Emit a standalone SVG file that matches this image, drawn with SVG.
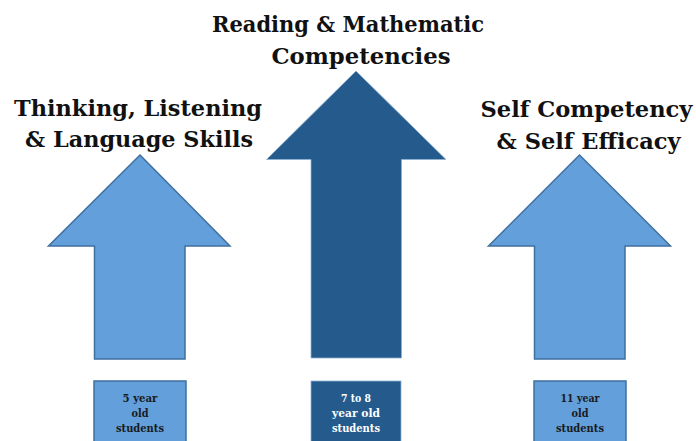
<svg xmlns="http://www.w3.org/2000/svg" width="696" height="441" viewBox="0 0 696 441">
<style>
.title{font-family:"DejaVu Serif","Liberation Serif",serif;font-weight:bold;font-size:23px;fill:#111;text-anchor:middle}
.lbl{font-family:"DejaVu Serif","Liberation Serif",serif;font-weight:bold;font-size:10.5px;text-anchor:middle}
.light{fill:#629fdb;stroke:#3f6f9f;stroke-width:1.5}
.dark{fill:#255a8c;stroke:#8fb2d4;stroke-width:0.8}
</style>
<rect width="696" height="441" fill="#fff"/>
<g id="node-left">
<text class="title" x="138" y="116" textLength="248" lengthAdjust="spacingAndGlyphs">Thinking, Listening</text>
<text class="title" x="139" y="147" textLength="228" lengthAdjust="spacingAndGlyphs">&amp; Language Skills</text>
<polygon class="light" points="140,155 230,246 185,246 185,359 94.5,359 94.5,246 48.5,246"/>
<rect class="light" x="94" y="381" width="92" height="70"/>
<text class="lbl" x="140" y="402" fill="#1a1a1a" textLength="35" lengthAdjust="spacingAndGlyphs">5 year</text>
<text class="lbl" x="140" y="417" fill="#1a1a1a" textLength="17" lengthAdjust="spacingAndGlyphs">old</text>
<text class="lbl" x="140" y="432" fill="#1a1a1a" textLength="48" lengthAdjust="spacingAndGlyphs">students</text>
</g>
<g id="node-center">
<text class="title" x="348" y="32" textLength="272" lengthAdjust="spacingAndGlyphs">Reading &amp; Mathematic</text>
<text class="title" x="361" y="63.5" textLength="179" lengthAdjust="spacingAndGlyphs">Competencies</text>
<polygon class="dark" points="356,71 446,159.5 401.5,159.5 401.5,358 311,358 311,159.5 266.5,159.5"/>
<rect class="dark" x="311" y="381" width="90" height="70"/>
<text class="lbl" x="356" y="402" fill="#fff" textLength="30" lengthAdjust="spacingAndGlyphs">7 to 8</text>
<text class="lbl" x="356" y="417" fill="#fff" textLength="48" lengthAdjust="spacingAndGlyphs">year old</text>
<text class="lbl" x="356" y="432" fill="#fff" textLength="48" lengthAdjust="spacingAndGlyphs">students</text>
</g>
<g id="node-right">
<text class="title" x="586.5" y="117" textLength="212" lengthAdjust="spacingAndGlyphs">Self Competency</text>
<text class="title" x="588.5" y="148.5" textLength="184" lengthAdjust="spacingAndGlyphs">&amp; Self Efficacy</text>
<polygon class="light" points="579.5,155 670.5,246 625,246 625,359 534.5,359 534.5,246 488.5,246"/>
<rect class="light" x="534" y="381" width="92" height="70"/>
<text class="lbl" x="580" y="402" fill="#1a1a1a" textLength="39" lengthAdjust="spacingAndGlyphs">11 year</text>
<text class="lbl" x="580" y="417" fill="#1a1a1a" textLength="17" lengthAdjust="spacingAndGlyphs">old</text>
<text class="lbl" x="580" y="432" fill="#1a1a1a" textLength="48" lengthAdjust="spacingAndGlyphs">students</text>
</g>
<g id="connectors"></g>
</svg>
